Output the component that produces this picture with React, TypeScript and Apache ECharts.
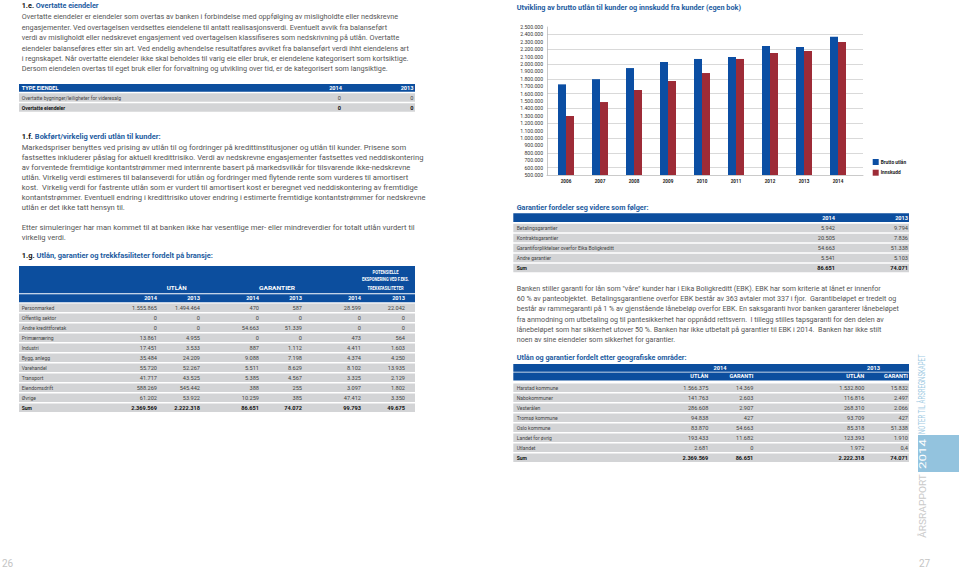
import React, { useEffect, useRef } from "react";
import * as echarts from "echarts";

const FONT = "Roboto, 'Open Sans', sans-serif";

// ---------- chart data ----------
const years = ["2006", "2007", "2008", "2009", "2010", "2011", "2012", "2013", "2014"];
const bruttoUtlan = [1725000, 1795000, 1945000, 2027000, 2068000, 2095000, 2243000, 2230000, 2369569];
const innskudd = [1297000, 1486000, 1649000, 1770000, 1878000, 2068000, 2149000, 2176000, 2297000];
const yMin = 500000;
const yMax = 2500000;
const yStep = 100000;
const seriesNames = ["Brutto utlån", "Innskudd"];
const chartTitle = "Utvikling av brutto utlån til kunder og innskudd fra kunder (egen bok)";

// ---------- text ----------
const introLines = [
  "Overtatte eiendeler er eiendeler som overtas av banken i forbindelse med oppfølging av misligholdte eller nedskrevne",
  "engasjementer. Ved overtagelsen verdsettes eiendelene til antatt realisasjonsverdi. Eventuelt avvik fra balanseført",
  "verdi av misligholdt eller nedskrevet engasjement ved overtagelsen klassifiseres som nedskrivning på utlån. Overtatte",
  "eiendeler balanseføres etter sin art. Ved endelig avhendelse resultatføres avviket fra balanseført verdi ihht eiendelens art",
  "i regnskapet. Når overtatte eiendeler ikke skal beholdes til varig eie eller bruk, er eiendelene kategorisert som kortsiktige.",
  "Dersom eiendelen overtas til eget bruk eller for forvaltning og utvikling over tid, er de kategorisert som langsiktige.",
];
const fairValueLines = [
  "Markedspriser benyttes ved prising av utlån til og fordringer på kredittinstitusjoner og utlån til kunder. Prisene som",
  "fastsettes inkluderer påslag for aktuell kredittrisiko. Verdi av nedskrevne engasjementer fastsettes ved neddiskontering",
  "av forventede fremtidige kontantstrømmer med internrente basert på markedsvilkår for tilsvarende ikke-nedskrevne",
  "utlån. Virkelig verdi estimeres til balanseverdi for utlån og fordringer med flytende rente som vurderes til amortisert",
  "kost.  Virkelig verdi for fastrente utlån som er vurdert til amortisert kost er beregnet ved neddiskontering av fremtidige",
  "kontantstrømmer. Eventuell endring i kredittrisiko utover endring i estimerte fremtidige kontantstrømmer for nedskrevne",
  "utlån er det ikke tatt hensyn til.",
];
const simulationLines = [
  "Etter simuleringer har man kommet til at banken ikke har vesentlige mer- eller mindreverdier for totalt utlån vurdert til",
  "virkelig verdi.",
];
const guaranteeTextLines = [
  'Banken stiller garanti for lån som "våre" kunder har i Eika Boligkreditt (EBK). EBK har som kriterie at lånet er innenfor',
  "60 % av panteobjektet.  Betalingsgarantiene overfor EBK består av 363 avtaler mot 337 i fjor.  Garantibeløpet er tredelt og",
  "består av rammegaranti på 1 % av gjenstående lånebeløp overfor EBK. En saksgaranti hvor banken garanterer lånebeløpet",
  "fra anmodning om utbetaling og til pantesikkerhet har oppnådd rettsvern.  I tillegg stilles tapsgaranti for den delen av",
  "lånebeløpet som har sikkerhet utover 50 %. Banken har ikke utbetalt på garantier til EBK i 2014.  Banken har ikke stilt",
  "noen av sine eiendeler som sikkerhet for garantier.",
];

// ---------- tables ----------
const assetHeader = ["TYPE EIENDEL", "2014", "2013"];
const assetRows = [
  ["Overtatte bygninger/leiligheter for videresalg", "0", "0"],
  ["Overtatte eiendeler", "0", "0"],
];

const sectorGroupHeaders = ["UTLÅN", "GARANTIER", "POTENSIELLE", "EKSPONERING VED F.EKS.", "TREKKFASILITETER"];
const sectorYearHeaders = ["2014", "2013", "2014", "2013", "2014", "2013"];
const sectorRows = [
  ["Personmarked", "1.555.865", "1.494.464", "470", "587", "28.599", "22.042"],
  ["Offentlig sektor", "0", "0", "0", "0", "0", "0"],
  ["Andre kredittforetak", "0", "0", "54.663", "51.339", "0", "0"],
  ["Primærnæring", "13.861", "4.955", "0", "0", "473", "564"],
  ["Industri", "17.451", "3.533", "887", "1.112", "4.411", "1.603"],
  ["Bygg, anlegg", "35.484", "24.209", "9.088", "7.198", "4.374", "4.250"],
  ["Varehandel", "55.720", "52.267", "5.511", "8.629", "8.102", "13.935"],
  ["Transport", "41.717", "43.525", "5.385", "4.567", "3.325", "2.129"],
  ["Eiendomsdrift", "588.269", "545.442", "388", "255", "3.097", "1.802"],
  ["Øvrige", "61.202", "53.922", "10.259", "385", "47.412", "3.350"],
  ["Sum", "2.369.569", "2.222.318", "86.651", "74.072", "99.793", "49.675"],
];

const guaranteeHeader = ["", "2014", "2013"];
const guaranteeRows = [
  ["Betalingsgarantier", "5.942", "9.794"],
  ["Kontraktsgarantier", "20.505", "7.836"],
  ["Garantiforpliktelser overfor Eika Boligkreditt", "54.663", "51.338"],
  ["Andre garantier", "5.541", "5.103"],
  ["Sum", "86.651", "74.071"],
];

const geoYearHeaders = ["2014", "2013"];
const geoSubHeaders = ["UTLÅN", "GARANTI", "UTLÅN", "GARANTI"];
const geoRows = [
  ["Harstad kommune", "1.566.375", "14.369", "1.532.800", "15.832"],
  ["Nabokommuner", "141.763", "2.603", "116.816", "2.497"],
  ["Vesterålen", "286.608", "2.907", "268.310", "2.066"],
  ["Tromsø kommune", "94.838", "427", "93.709", "427"],
  ["Oslo kommune", "83.870", "54.663", "85.318", "51.338"],
  ["Landet for øvrig", "193.433", "11.682", "123.393", "1.910"],
  ["Utlandet", "2.681", "0", "1.972", "0,4"],
  ["Sum", "2.369.569", "86.651", "2.222.318", "74.071"],
];

const BLUE = "#0c4e9e";
const GRAY = "#d3d4d6";
const TITLE_BLUE = "#1d5c9f";
const BODY = "#555555";
const CELL = "#444444";

function buildGraphics() {
  const canvas = document.createElement("canvas");
  const ctx = canvas.getContext("2d") as CanvasRenderingContext2D;
  const measure = (t: string, size: number, weight = "normal") => {
    ctx.font = `${weight} ${size}px Roboto`;
    return ctx.measureText(t).width;
  };
  const els: any[] = [];
  const text = (t: string, x: number, y: number, o: any = {}) => {
    const align = o.align ?? "left";
    els.push({
      type: "text",
      x,
      y,
      scaleX: o.sx ?? 1,
      rotation: o.rot ?? 0,
      silent: true,
      z: 10,
      style: {
        text: t,
        fill: o.fill ?? BODY,
        fontSize: o.size ?? 7.5,
        fontWeight: o.weight ?? "normal",
        fontFamily: FONT,
        textAlign: align,
        align,
        textVerticalAlign: "middle",
        verticalAlign: "middle",
      },
    });
  };
  const rect = (x: number, y: number, w: number, h: number, fill: string) => {
    els.push({ type: "rect", silent: true, z: 5, shape: { x, y, width: w, height: h }, style: { fill } });
  };
  const heading = (prefix: string, rest: string, x: number, y: number, width: number) => {
    const size = 8;
    const full = prefix ? prefix + " " + rest : rest;
    const s = width / measure(full, size, "bold");
    if (prefix) {
      text(prefix, x, y, { size, weight: "bold", fill: "#111", sx: s });
      text(rest, x + measure(prefix + " ", size, "bold") * s, y, { size, weight: "bold", fill: TITLE_BLUE, sx: s });
    } else {
      text(rest, x, y, { size, weight: "bold", fill: TITLE_BLUE, sx: s });
    }
  };
  const para = (lines: string[], x: number, y0: number, dy: number, s: number) => {
    lines.forEach((l, i) => text(l, x, y0 + i * dy, { sx: s }));
  };
  const paraScale = (line: string, width: number) => width / measure(line, 7.5);

  const TS = 5.6; // table font size
  const LSX = 0.9; // label scale
  const cellLabel = (t: string, x: number, y: number, bold: boolean) =>
    text(t, x, y, { size: TS, sx: LSX, fill: bold ? "#111" : CELL, weight: bold ? "bold" : "normal" });
  const cellNum = (t: string, x: number, y: number, bold: boolean) =>
    text(t, x, y, { size: TS, fill: bold ? "#111" : CELL, weight: bold ? "bold" : "normal", align: "right" });
  const head = (t: string, x: number, y: number, align = "right", width?: number) =>
    text(t, x, y, {
      size: TS,
      fill: "#fff",
      weight: "bold",
      align,
      sx: width ? width / measure(t, TS, "bold") : 1,
    });

  // ---------- left page ----------
  heading("1.e.", "Overtatte eiendeler", 21.7, 5.7, 77);
  para(introLines, 21.7, 16.8, 10.4, paraScale(introLines[0], 377));

  // asset table
  const L0 = 19, LW = 396;
  rect(L0, 84, LW, 7.8, BLUE);
  head(assetHeader[0], 21.7, 88, "left");
  head(assetHeader[1], 342, 88);
  head(assetHeader[2], 413.5, 88);
  assetRows.forEach((r, i) => {
    const yc = 97.5 + i * 10;
    rect(L0, yc - 4.2, LW, 8.4, GRAY);
    const bold = i === assetRows.length - 1;
    cellLabel(r[0], 21.7, yc, bold);
    cellNum(r[1], 341, yc, bold);
    cellNum(r[2], 413.5, yc, bold);
  });

  heading("1.f.", "Bokført/virkelig verdi utlån til kunder:", 21.7, 136.5, 139);
  const fvs = paraScale(fairValueLines[0], 385.6);
  para(fairValueLines, 21.7, 147.3, 10.07, fvs);
  para(simulationLines, 21.7, 227.7, 10, fvs);

  heading("1.g.", "Utlån, garantier og trekkfasiliteter fordelt på bransje:", 21.7, 255, 191.6);
  rect(L0, 266, LW, 27.3, BLUE);
  rect(L0, 294.3, LW, 8, BLUE);
  head(sectorGroupHeaders[0], 176.7, 287.7, "center", 20);
  head(sectorGroupHeaders[1], 277, 287.7, "center", 36);
  head(sectorGroupHeaders[2], 385.5, 271.7, "center", 26);
  head(sectorGroupHeaders[3], 385.5, 279.7, "center", 47);
  head(sectorGroupHeaders[4], 385.5, 287.7, "center", 36);
  const sectorCols = [157, 200, 259, 302, 361, 405];
  sectorYearHeaders.forEach((h, i) => head(h, sectorCols[i], 298.3));
  sectorRows.forEach((r, i) => {
    const yc = 307.7 + i * 10;
    rect(L0, yc - 4.3, LW, 8.6, GRAY);
    const bold = i === sectorRows.length - 1;
    cellLabel(r[0], 21.7, yc, bold);
    for (let c = 1; c < r.length; c++) cellNum(r[c], sectorCols[c - 1], yc, bold);
  });

  text("26", 2, 563, { size: 10, fill: "#c4c4c4" });

  // ---------- right page ----------
  heading("", chartTitle, 516.7, 7.5, 225);

  const R0 = 513.3, RW = 395.7;
  heading("", "Garantier fordeler seg videre som følger:", 516.7, 207, 132);
  rect(R0, 213.3, RW, 8.7, BLUE);
  head(guaranteeHeader[1], 835, 217.7);
  head(guaranteeHeader[2], 908, 217.7);
  guaranteeRows.forEach((r, i) => {
    const yc = 228 + i * 10;
    rect(R0, yc - 4.25, RW, 8.5, GRAY);
    const bold = i === guaranteeRows.length - 1;
    cellLabel(r[0], 516.7, yc, bold);
    cellNum(r[1], 835, yc, bold);
    cellNum(r[2], 908, yc, bold);
  });

  para(guaranteeTextLines, 516.7, 288.3, 10.3, paraScale(guaranteeTextLines[0], 365));

  heading("", "Utlån og garantier fordelt etter geografiske områder:", 516.7, 357.3, 170);
  rect(R0, 364, RW, 7.7, BLUE);
  rect(R0, 372.4, RW, 8, BLUE);
  head(geoYearHeaders[0], 720, 368, "center");
  head(geoYearHeaders[1], 873.5, 368, "center");
  const geoCols = [708.3, 753.3, 864.3, 908];
  geoSubHeaders.forEach((h, i) => head(h, geoCols[i], 376.4));
  geoRows.forEach((r, i) => {
    const yc = 387.7 + i * 10;
    rect(R0, yc - 4.3, RW, 8.6, GRAY);
    const bold = i === geoRows.length - 1;
    cellLabel(r[0], 516.7, yc, bold);
    for (let c = 1; c < r.length; c++) cellNum(r[c], geoCols[c - 1], yc, bold);
  });

  // vertical side label
  rect(918, 435, 41, 37, "#93c3de");
  const VS = 9.5;
  const rot = Math.PI / 2;
  text("ÅRSRAPPORT", 922.5, 538, { size: VS, fill: "#c9c9c9", rot, sx: 64 / measure("ÅRSRAPPORT", VS) });
  text("2014", 922.5, 469, { size: VS, fill: "#ffffff", rot, sx: 30 / measure("2014", VS) });
  text("NOTER TIL ÅRSREGNSKAPET", 922.5, 434, {
    size: VS,
    fill: "#9fcbe3",
    rot,
    sx: 80 / measure("NOTER TIL ÅRSREGNSKAPET", VS),
  });
  text("27", 919, 563, { size: 10, fill: "#c4c4c4" });

  return els;
}

const fmt = (v: number) => String(v).replace(/\B(?=(\d{3})+(?!\d))/g, ".");

export default function App() {
  const ref = useRef<HTMLDivElement>(null);
  useEffect(() => {
    if (!ref.current) return;
    const chart = echarts.init(ref.current, undefined, { renderer: "svg" });
    chart.setOption({
      animation: false,
      backgroundColor: "#ffffff",
      textStyle: { fontFamily: FONT },
      grid: [
        { left: 547, top: 27, width: 316, height: 148 },
        { left: 549, top: 27, width: 306, height: 148 },
      ],
      xAxis: [
        {
          type: "category",
          gridIndex: 0,
          data: years,
          axisLine: { show: true, lineStyle: { color: "#b3b3b3", width: 0.7 } },
          axisTick: { show: false },
          axisLabel: { show: false },
        },
        {
          type: "category",
          gridIndex: 1,
          data: years,
          axisLine: { show: false },
          axisTick: { show: false },
          axisLabel: { fontSize: 4.6, fontWeight: "bold", color: "#222", margin: 3.5, fontFamily: FONT },
        },
      ],
      yAxis: [
        {
          type: "value",
          gridIndex: 0,
          min: yMin,
          max: yMax,
          interval: yStep,
          axisLine: { show: true, lineStyle: { color: "#b3b3b3", width: 0.7 } },
          axisTick: { show: false },
          axisLabel: { fontSize: 5.1, color: "#333", margin: 4, formatter: fmt, fontFamily: FONT },
          splitLine: { show: true, lineStyle: { color: ["rgba(0,0,0,0)", "#c9c9c9"], width: 0.7 } },
        },
        {
          type: "value",
          gridIndex: 1,
          min: yMin,
          max: yMax,
          interval: yStep,
          show: false,
          splitLine: { show: false },
        },
      ],
      legend: {
        data: seriesNames,
        orient: "vertical",
        left: 872.7,
        top: 159,
        padding: 0,
        itemWidth: 6,
        itemHeight: 6,
        itemGap: 4.7,
        icon: "rect",
        selectedMode: false,
        textStyle: { fontSize: 4.8, fontWeight: "bold", color: "#222", fontFamily: FONT, padding: [0, 0, 0, -3] },
      },
      series: [
        {
          name: seriesNames[0],
          type: "bar",
          xAxisIndex: 1,
          yAxisIndex: 1,
          data: bruttoUtlan,
          barWidth: 8,
          barGap: "0%",
          itemStyle: { color: "#0b4ea3" },
        },
        {
          name: seriesNames[1],
          type: "bar",
          xAxisIndex: 1,
          yAxisIndex: 1,
          data: innskudd,
          barWidth: 8,
          barGap: "0%",
          itemStyle: { color: "#9d2b37" },
        },
      ],
      graphic: { elements: buildGraphics() },
    });
    return () => chart.dispose();
  }, []);
  return (
    <div
      ref={ref}
      style={{ position: "absolute", left: 0, top: 0, width: 959, height: 570, background: "#fff" }}
    />
  );
}
